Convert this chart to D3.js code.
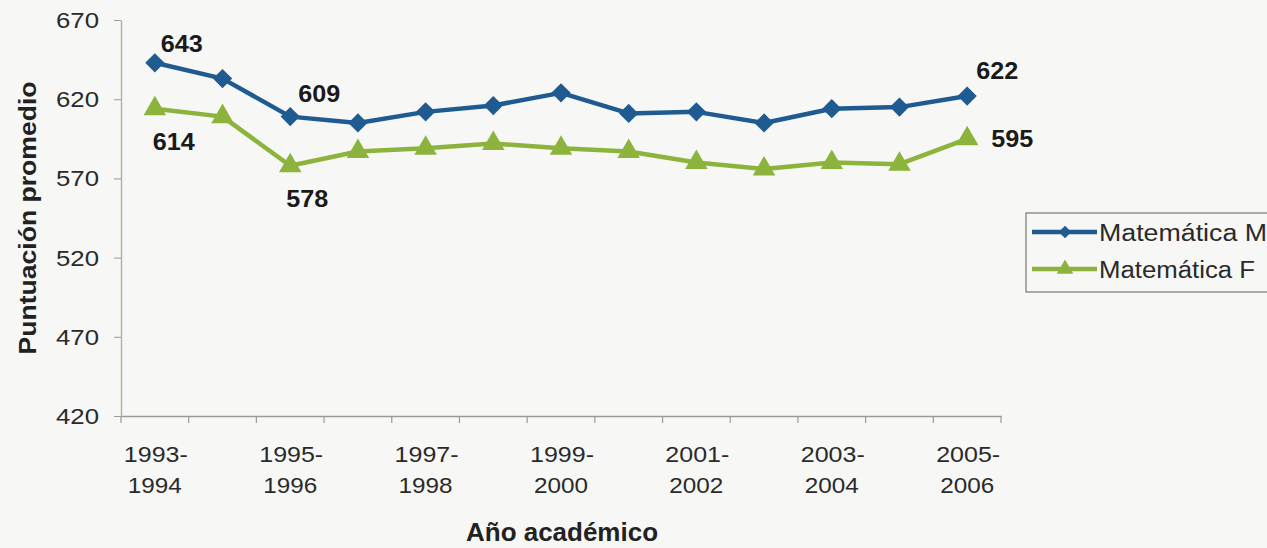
<!DOCTYPE html>
<html><head><meta charset="utf-8">
<script src="https://cdn.jsdelivr.net/npm/d3@7"></script>
<style>body{margin:0;background:#f7f7f6;}svg{display:block;}text{font-family:"Liberation Sans",Arial,sans-serif;}</style>
</head><body>
<svg id="c" width="1267" height="548"></svg>
<script>
const categories = ["1993-1994","1994-1995","1995-1996","1996-1997","1997-1998","1998-1999","1999-2000","2000-2001","2001-2002","2002-2003","2003-2004","2004-2005","2005-2006"];
const tickLabels = ["1993-1994","1995-1996","1997-1998","1999-2000","2001-2002","2003-2004","2005-2006"];
const yTicks = [420,470,520,570,620,670];
const seriesNames = ["Matemática M","Matemática F"];
const valuesM = [643,633,609,605,612,616,624,611,612,605,614,615,622];
const valuesF = [614,609,578,587,589,592,589,587,580,576,580,579,595];
const labelIdx = [0,2,12];

const svg = d3.select("#c");
const x = d3.scaleBand().domain(categories).range([121,1001]);
const y = d3.scaleLinear().domain([420,670]).range([416,20]);
const cx = c => x(c) + x.bandwidth()/2;
const blue = "#1f5b90", green = "#8cb43c";
const txt = "#2a2a2a";

// y axis
const yAx = svg.append("g").attr("transform","translate(121,0)")
  .call(d3.axisLeft(y).tickValues(yTicks).tickSize(7).tickSizeOuter(0).tickFormat(()=>""));
yAx.select(".domain").attr("stroke","#b8b38c").attr("stroke-width",1.4);
yAx.selectAll(".tick line").attr("stroke","#9a9a9a");
svg.append("g").selectAll("text").data(yTicks).join("text")
  .attr("x",99).attr("y",d=>y(d)+8).attr("text-anchor","end")
  .attr("font-size",22).attr("fill",txt)
  .attr("textLength",43).attr("lengthAdjust","spacingAndGlyphs").text(d=>d);

// x axis
const xAx = svg.append("g").attr("transform","translate(0,416)")
  .call(d3.axisBottom(x).tickValues([]).tickSizeOuter(0));
xAx.select(".domain").attr("stroke","#9a9a9a").attr("stroke-width",1.4);
const bounds = categories.map(c=>x(c)).concat([x(categories[categories.length-1])+x.bandwidth()]);
svg.append("g").selectAll("line").data(bounds).join("line")
  .attr("x1",d=>d).attr("x2",d=>d).attr("y1",416).attr("y2",423)
  .attr("stroke","#9a9a9a").attr("stroke-width",1.2);
const xl = svg.append("g");
xl.selectAll("text.a").data(tickLabels).join("text").attr("class","a")
  .attr("x",d=>cx(d)+1).attr("y",462).attr("text-anchor","middle")
  .attr("font-size",22).attr("fill",txt)
  .attr("textLength",64).attr("lengthAdjust","spacingAndGlyphs").text(d=>d.split("-")[0]+"-");
xl.selectAll("text.b").data(tickLabels).join("text").attr("class","b")
  .attr("x",d=>cx(d)).attr("y",493).attr("text-anchor","middle")
  .attr("font-size",22).attr("fill",txt)
  .attr("textLength",54).attr("lengthAdjust","spacingAndGlyphs").text(d=>d.split("-")[1]);

// axis titles
svg.append("text").attr("transform","translate(36,218) rotate(-90)").attr("text-anchor","middle")
  .attr("font-size",24).attr("font-weight","bold").attr("fill","#222")
  .attr("textLength",273).attr("lengthAdjust","spacingAndGlyphs").text("Puntuación promedio");
svg.append("text").attr("x",562).attr("y",541).attr("text-anchor","middle")
  .attr("font-size",25).attr("font-weight","bold").attr("fill","#222")
  .attr("textLength",192).attr("lengthAdjust","spacingAndGlyphs").text("Año académico");

// lines
const line = d3.line().x((d,i)=>cx(categories[i])).y(d=>y(d));
svg.append("path").datum(valuesF).attr("d",line).attr("fill","none").attr("stroke",green).attr("stroke-width",4.5).attr("stroke-linejoin","round");
svg.append("path").datum(valuesM).attr("d",line).attr("fill","none").attr("stroke",blue).attr("stroke-width",4.5).attr("stroke-linejoin","round");

const diamond = d3.symbol().type(d3.symbolSquare).size(185);
const tri = d3.symbol().type(d3.symbolTriangle).size(220);
svg.append("g").selectAll("path").data(valuesF).join("path")
  .attr("transform",(d,i)=>`translate(${cx(categories[i])},${y(d)})`).attr("d",tri).attr("fill",green);
svg.append("g").selectAll("path").data(valuesM).join("path")
  .attr("transform",(d,i)=>`translate(${cx(categories[i])},${y(d)}) rotate(45)`).attr("d",diamond).attr("fill",blue);

// data labels
const lab = svg.append("g").attr("font-size",23).attr("font-weight","bold").attr("fill","#1a1a1a");
const offM = [[27,-11],[29,-15],[30,-17]];
const offF = [[19,41],[17,41],[45,8]];
labelIdx.forEach((i,k)=>{
  lab.append("text").attr("x",cx(categories[i])+offM[k][0]).attr("y",y(valuesM[i])+offM[k][1])
    .attr("text-anchor","middle").attr("textLength",42).attr("lengthAdjust","spacingAndGlyphs").text(valuesM[i]);
  lab.append("text").attr("x",cx(categories[i])+offF[k][0]).attr("y",y(valuesF[i])+offF[k][1])
    .attr("text-anchor","middle").attr("textLength",42).attr("lengthAdjust","spacingAndGlyphs").text(valuesF[i]);
});

// legend
const lg = svg.append("g");
lg.append("rect").attr("x",1026).attr("y",213).attr("width",250).attr("height",79)
  .attr("fill","#f7f7f6").attr("stroke","#777").attr("stroke-width",1.2);
const items = [{n:seriesNames[0],c:blue,s:d3.symbol().type(d3.symbolSquare).size(80),r:45,yy:232,w:168},
               {n:seriesNames[1],c:green,s:d3.symbol().type(d3.symbolTriangle).size(120),r:0,yy:269,w:156}];
items.forEach(it=>{
  lg.append("line").attr("x1",1032).attr("x2",1097).attr("y1",it.yy).attr("y2",it.yy).attr("stroke",it.c).attr("stroke-width",4.5);
  lg.append("path").attr("transform",`translate(1065,${it.yy}) rotate(${it.r})`).attr("d",it.s).attr("fill",it.c);
  lg.append("text").attr("x",1099).attr("y",it.yy+9).attr("font-size",23).attr("fill",txt)
    .attr("textLength",it.w).attr("lengthAdjust","spacingAndGlyphs").text(it.n);
});
</script>
</body></html>
